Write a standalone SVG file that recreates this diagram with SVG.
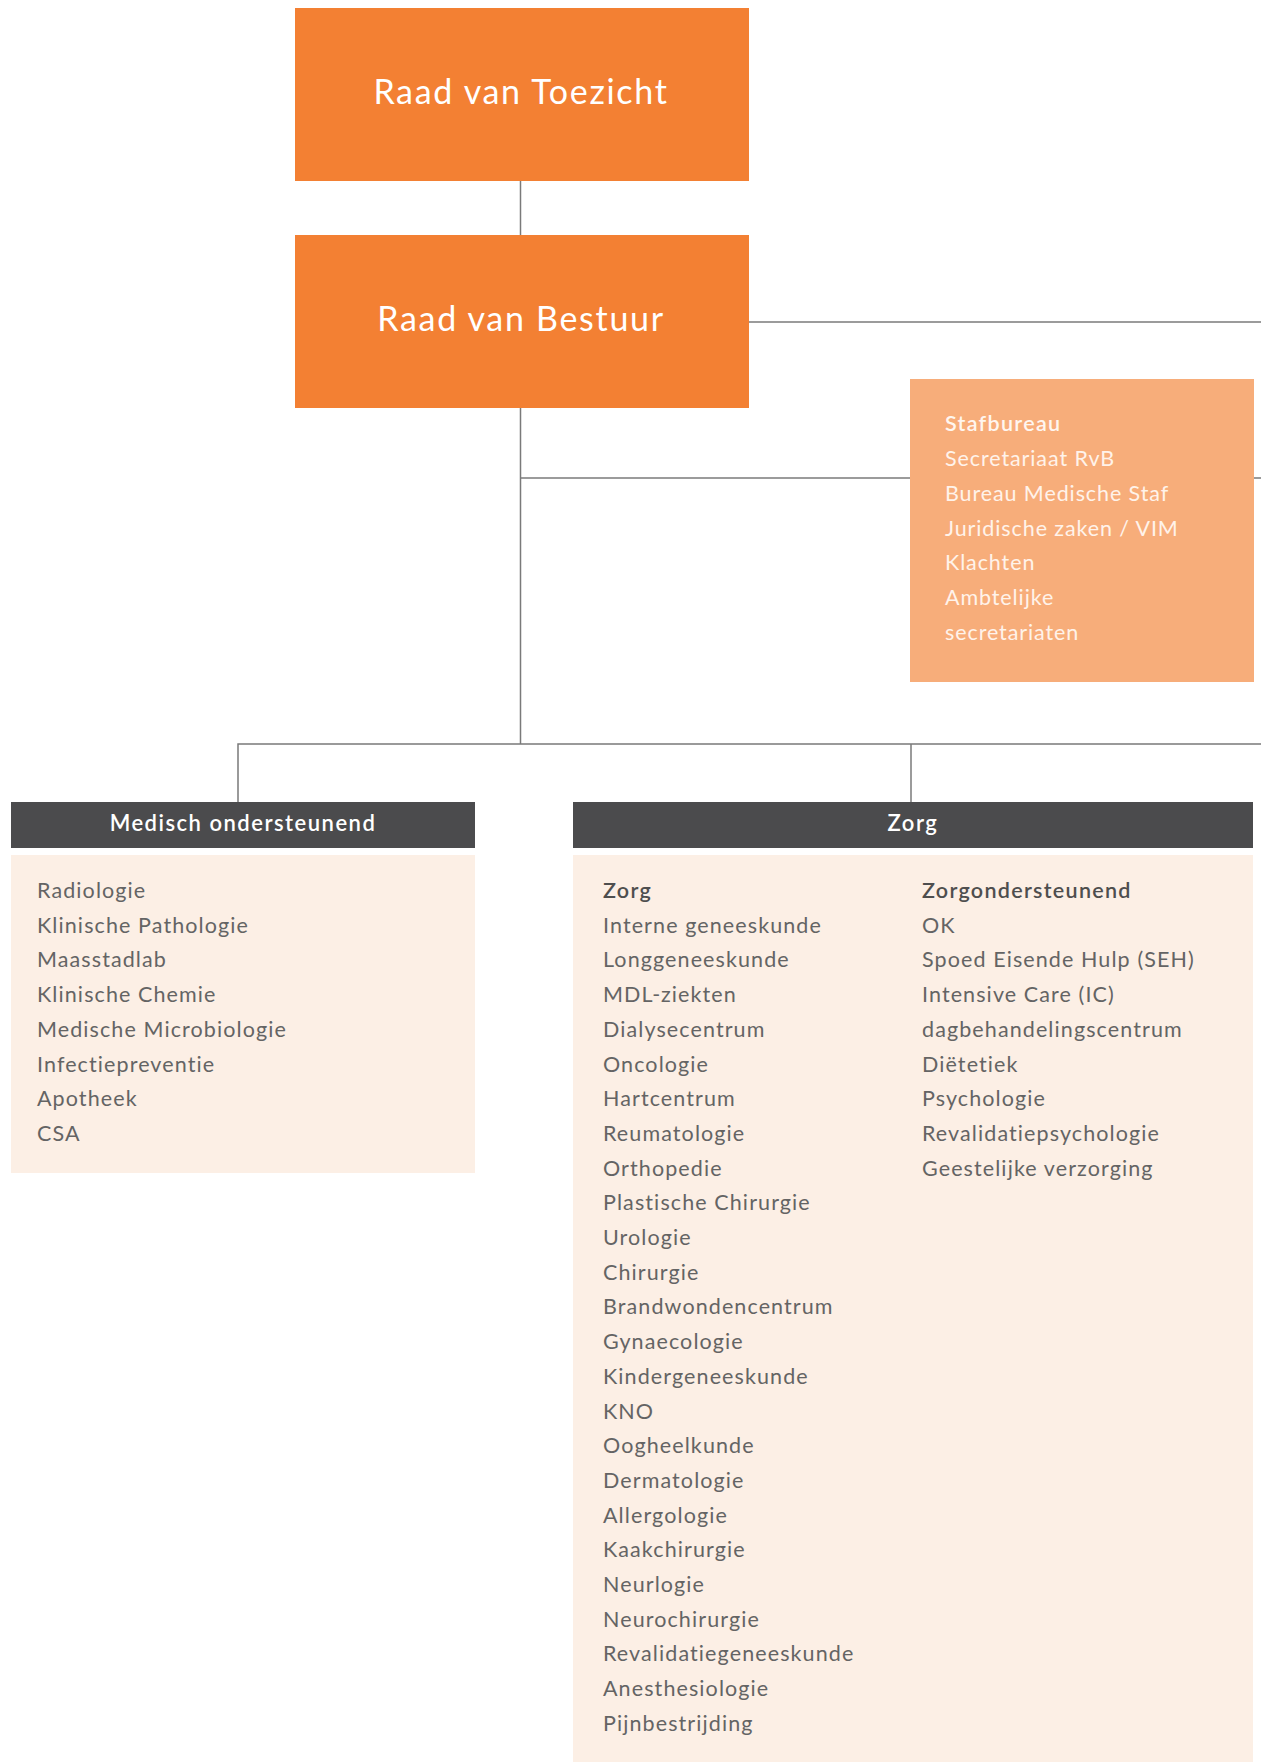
<svg xmlns="http://www.w3.org/2000/svg" width="1261" height="1762" viewBox="0 0 1261 1762">
<style>
.top{fill:#F38033}
.staf{fill:#F7AD7A}
.hdr{fill:#4B4B4D}
.body{fill:#FCEFE5}
.ttl{font-family:"Lato","Liberation Sans",sans-serif;font-size:34px;fill:#FFFFFF;text-anchor:middle;letter-spacing:1.7px}
.hdt{font-family:"Lato","Liberation Sans",sans-serif;font-size:22px;font-weight:600;fill:#FFFFFF;text-anchor:middle;letter-spacing:1.5px}
.it{font-family:"Lato","Liberation Sans",sans-serif;font-size:21.5px;font-weight:400;fill:#646464;letter-spacing:1.1px}
.itb{font-family:"Lato","Liberation Sans",sans-serif;font-size:21.5px;font-weight:600;fill:#4E4E4E;letter-spacing:1.3px}
.sf{font-family:"Lato","Liberation Sans",sans-serif;font-size:21.5px;font-weight:400;fill:#FFF3EA;letter-spacing:0.9px}
.sfb{font-family:"Lato","Liberation Sans",sans-serif;font-size:21.5px;font-weight:600;fill:#FFF6EF;letter-spacing:1.3px}
.ln{stroke:#7A7A7A;stroke-width:1.5;fill:none}
</style>
<rect width="1261" height="1762" fill="#FFFFFF"/>
<g id="connectors">
<path class="ln" d="M520.5 181V235"/>
<path class="ln" d="M520.5 408V744"/>
<path class="ln" d="M749 322H1261"/>
<path class="ln" d="M520.5 478H1261"/>
<path class="ln" d="M238 802V744H1261"/>
<path class="ln" d="M911 744V802"/>
</g>
<g id="raad-van-toezicht">
<rect class="top" x="295" y="8" width="454" height="173"/>
<text class="ttl" x="521" y="104">Raad van Toezicht</text>
</g>
<g id="raad-van-bestuur">
<rect class="top" x="295" y="235" width="454" height="173"/>
<text class="ttl" x="521" y="331">Raad van Bestuur</text>
</g>
<g id="stafbureau">
<rect class="staf" x="910" y="379" width="344" height="303"/>
<text class="sfb" x="945" y="431">Stafbureau</text>
<text class="sf" x="945" y="466">Secretariaat RvB</text>
<text class="sf" x="945" y="501">Bureau Medische Staf</text>
<text class="sf" x="945" y="536">Juridische zaken / VIM</text>
<text class="sf" x="945" y="570">Klachten</text>
<text class="sf" x="945" y="605">Ambtelijke</text>
<text class="sf" x="945" y="640">secretariaten</text>
</g>
<g id="medisch-ondersteunend">
<rect class="hdr" x="11" y="802" width="464" height="46"/>
<text class="hdt" x="243" y="831">Medisch ondersteunend</text>
<rect class="body" x="11" y="855" width="464" height="318"/>
<text class="it" x="37" y="898">Radiologie</text>
<text class="it" x="37" y="932.7">Klinische Pathologie</text>
<text class="it" x="37" y="967.4">Maasstadlab</text>
<text class="it" x="37" y="1002.1">Klinische Chemie</text>
<text class="it" x="37" y="1036.8">Medische Microbiologie</text>
<text class="it" x="37" y="1071.5">Infectiepreventie</text>
<text class="it" x="37" y="1106.2">Apotheek</text>
<text class="it" x="37" y="1140.9">CSA</text>
</g>
<g id="zorg">
<rect class="hdr" x="573" y="802" width="680" height="46"/>
<text class="hdt" x="913" y="831">Zorg</text>
<rect class="body" x="573" y="855" width="680" height="907"/>
<text class="itb" x="603" y="898">Zorg</text>
<text class="it" x="603" y="932.7">Interne geneeskunde</text>
<text class="it" x="603" y="967.4">Longgeneeskunde</text>
<text class="it" x="603" y="1002.1">MDL-ziekten</text>
<text class="it" x="603" y="1036.8">Dialysecentrum</text>
<text class="it" x="603" y="1071.5">Oncologie</text>
<text class="it" x="603" y="1106.2">Hartcentrum</text>
<text class="it" x="603" y="1140.9">Reumatologie</text>
<text class="it" x="603" y="1175.6">Orthopedie</text>
<text class="it" x="603" y="1210.3">Plastische Chirurgie</text>
<text class="it" x="603" y="1245">Urologie</text>
<text class="it" x="603" y="1279.7">Chirurgie</text>
<text class="it" x="603" y="1314.4">Brandwondencentrum</text>
<text class="it" x="603" y="1349.1">Gynaecologie</text>
<text class="it" x="603" y="1383.8">Kindergeneeskunde</text>
<text class="it" x="603" y="1418.5">KNO</text>
<text class="it" x="603" y="1453.2">Oogheelkunde</text>
<text class="it" x="603" y="1487.9">Dermatologie</text>
<text class="it" x="603" y="1522.6">Allergologie</text>
<text class="it" x="603" y="1557.3">Kaakchirurgie</text>
<text class="it" x="603" y="1592">Neurlogie</text>
<text class="it" x="603" y="1626.7">Neurochirurgie</text>
<text class="it" x="603" y="1661.4">Revalidatiegeneeskunde</text>
<text class="it" x="603" y="1696.1">Anesthesiologie</text>
<text class="it" x="603" y="1730.8">Pijnbestrijding</text>
<text class="itb" x="922" y="898">Zorgondersteunend</text>
<text class="it" x="922" y="932.7">OK</text>
<text class="it" x="922" y="967.4">Spoed Eisende Hulp (SEH)</text>
<text class="it" x="922" y="1002.1">Intensive Care (IC)</text>
<text class="it" x="922" y="1036.8">dagbehandelingscentrum</text>
<text class="it" x="922" y="1071.5">Diëtetiek</text>
<text class="it" x="922" y="1106.2">Psychologie</text>
<text class="it" x="922" y="1140.9">Revalidatiepsychologie</text>
<text class="it" x="922" y="1175.6">Geestelijke verzorging</text>
</g>
</svg>
